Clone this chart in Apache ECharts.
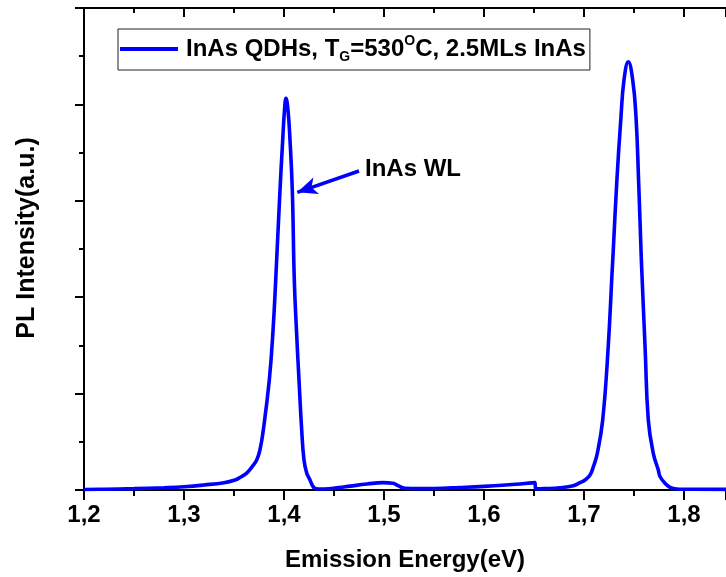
<!DOCTYPE html>
<html>
<head>
<meta charset="utf-8">
<script src="https://cdn.jsdelivr.net/npm/echarts@6/dist/echarts.min.js"></script>
<style>html,body{margin:0;padding:0;background:#fff}#c{width:726px;height:577px}</style>
</head>
<body>
<div id="c"></div>
<script>
const xTicks = [1.2, 1.3, 1.4, 1.5, 1.6, 1.7, 1.8];
const energy = [1.200,1.220,1.250,1.280,1.300,1.320,1.340,1.351,1.356,1.3627,1.368,1.3727,1.376,1.3793,1.3853,1.389,1.3917,1.396,1.3987,1.4005,1.402,1.404,1.406,1.4083,1.4103,1.4125,1.415,1.4177,1.420,1.4227,1.426,1.4285,1.431,1.434,1.440,1.455,1.466,1.483,1.499,1.509,1.514,1.521,1.535,1.550,1.575,1.600,1.625,1.651,1.6515,1.660,1.676,1.6893,1.696,1.701,1.706,1.7093,1.7133,1.7187,1.724,1.7283,1.7293,1.7327,1.737,1.740,1.7443,1.7487,1.752,1.7547,1.757,1.7577,1.7612,1.7643,1.7693,1.7743,1.776,1.781,1.786,1.7927,1.800,1.842];
const intensity = [0.005,0.008,0.014,0.024,0.034,0.052,0.076,0.104,0.13,0.176,0.24,0.311,0.42,0.622,1.141,1.65,2.178,3.112,3.63,3.94,4.063,3.94,3.63,3.112,2.178,1.65,1.141,0.622,0.311,0.176,0.104,0.045,0.016,0.01,0.01,0.025,0.04,0.062,0.076,0.07,0.045,0.018,0.014,0.016,0.026,0.038,0.055,0.076,0.012,0.014,0.024,0.045,0.076,0.104,0.155,0.24,0.38,0.726,1.45,2.30,2.49,3.18,3.872,4.253,4.443,4.253,3.872,3.18,2.49,2.30,1.45,0.726,0.38,0.207,0.14,0.07,0.028,0.01,0.008,0.006];
const seriesName = 'InAs QDHs, T_G=530^OC, 2.5MLs InAs';
const annotText = 'InAs WL';
const arrowTail = [1.475, 3.309];
const arrowHead = [1.4133, 3.088];
const annotPos = [1.481, 3.33];

const FONT = '"Liberation Sans", Arial, sans-serif';
const chart = echarts.init(document.getElementById('c'));
const data = energy.map((e, i) => [e, intensity[i]]);
const axisLine = {show: true, onZero: false, lineStyle: {color: '#000', width: 2}};
chart.setOption({
  animation: false,
  backgroundColor: '#fff',
  grid: {left: 84, top: 8, width: 642, height: 482, containLabel: false},
  legend: {
    left: 118, top: 29,
    padding: [5, 4, 6, 2],
    borderColor: '#222', borderWidth: 1,
    icon: 'rect',
    itemWidth: 58, itemHeight: 4, itemGap: 0,
    formatter: () => '{a|InAs QDHs, T}{sub|G}{a|=530}{sup|O}{a|C, 2.5MLs InAs}',
    textStyle: {
      fontFamily: FONT, fontWeight: 'bold', fontSize: 24, color: '#000', padding: [0, 0, 0, 3],
      rich: {
        a: {fontFamily: FONT, fontWeight: 'bold', fontSize: 24, lineHeight: 30, color: '#000'},
        sub: {fontFamily: FONT, fontWeight: 'bold', fontSize: 14, lineHeight: 14, verticalAlign: 'bottom', color: '#000'},
        sup: {fontFamily: FONT, fontWeight: 'bold', fontSize: 14, lineHeight: 14, verticalAlign: 'top', color: '#000'}
      }
    },
    data: [seriesName]
  },
  xAxis: [{
    type: 'value', position: 'bottom', min: 1.2, max: 1.842, interval: 0.1,
    axisLine: axisLine,
    axisTick: {show: true, inside: false, length: 10, lineStyle: {color: '#000', width: 2}},
    minorTick: {show: true, splitNumber: 2, length: 6, lineStyle: {color: '#000', width: 2}},
    splitLine: {show: false},
    axisLabel: {
      show: true, margin: 13, showMaxLabel: false,
      fontFamily: FONT, fontWeight: 'bold', fontSize: 24, color: '#000',
      formatter: v => {
        const k = v * 10;
        return (Math.abs(k - Math.round(k)) < 1e-6 && xTicks.some(t => Math.abs(t - v) < 1e-6)) ? v.toFixed(1).replace('.', ',') : '';
      }
    },
    name: 'Emission Energy(eV)', nameLocation: 'middle', nameGap: 58,
    nameTextStyle: {fontFamily: FONT, fontWeight: 'bold', fontSize: 24, color: '#000'}
  }, {
    type: 'value', position: 'top', min: 1.2, max: 1.842, interval: 0.1,
    axisLine: axisLine,
    axisTick: {show: true, inside: true, length: 9, lineStyle: {color: '#000', width: 2}},
    minorTick: {show: true, splitNumber: 2, length: 5, lineStyle: {color: '#000', width: 2}},
    splitLine: {show: false},
    axisLabel: {show: false}
  }],
  yAxis: {
    type: 'value', min: 0, max: 5, interval: 1,
    axisLine: axisLine,
    axisTick: {show: true, inside: false, length: 9, lineStyle: {color: '#000', width: 2}},
    minorTick: {show: true, splitNumber: 2, length: 5, lineStyle: {color: '#000', width: 2}},
    splitLine: {show: false},
    axisLabel: {show: false},
    name: 'PL Intensity(a.u.)', nameLocation: 'middle', nameGap: 44, nameRotate: 90,
    nameTextStyle: {fontFamily: FONT, fontWeight: 'bold', fontSize: 25, color: '#000', padding: [0, 0, 0, 22]}
  },
  series: [{
    name: seriesName,
    type: 'line',
    xAxisIndex: 0,
    data: data,
    smooth: 0.45,
    symbol: 'none',
    showSymbol: false,
    color: '#0000ff',
    lineStyle: {color: '#0000ff', width: 3.6},
    markLine: {
      silent: true, animation: false,
      symbol: ['none', 'arrow'], symbolSize: [13, 20],
      lineStyle: {color: '#0000ff', width: 3.5, type: 'solid'},
      label: {show: false},
      data: [[{coord: arrowTail}, {coord: arrowHead}]]
    },
    markPoint: {
      silent: true, animation: false,
      symbol: 'circle', symbolSize: 0,
      label: {show: true, position: 'right', distance: 0, formatter: annotText,
        fontFamily: FONT, fontWeight: 'bold', fontSize: 24, color: '#000'},
      data: [{coord: annotPos}]
    }
  }]
});
</script>
</body>
</html>
